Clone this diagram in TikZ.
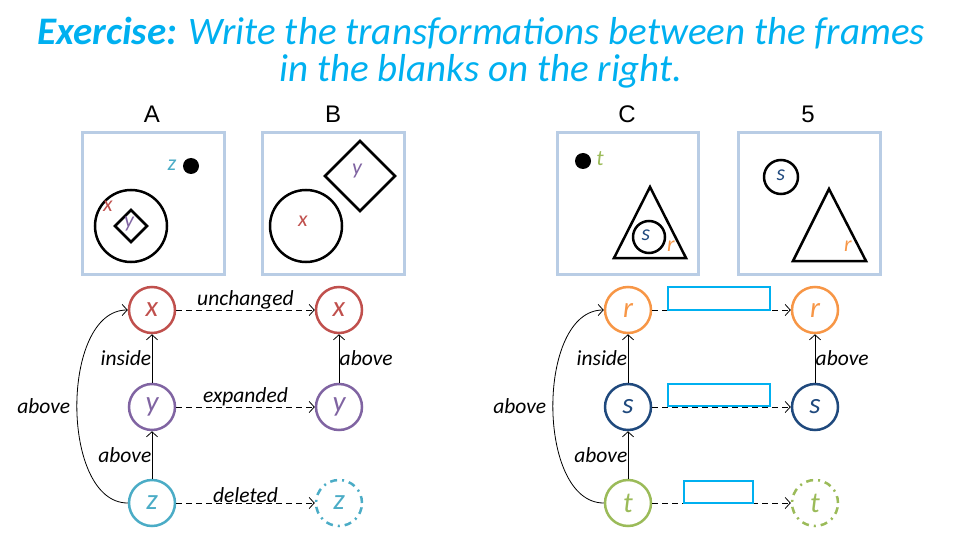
\documentclass[tikz,border=0pt]{standalone}
\usepackage{fontspec}
\setmainfont{Carlito}
\newfontfamily\capfont{Liberation Sans}
\usetikzlibrary{arrows.meta}
\definecolor{titleblue}{RGB}{0,176,240}
\definecolor{framegray}{RGB}{185,205,229}
\definecolor{cx}{RGB}{192,80,77}
\definecolor{cy}{RGB}{128,100,162}
\definecolor{cz}{RGB}{75,172,198}
\definecolor{cr}{RGB}{247,150,70}
\definecolor{cs}{RGB}{31,73,125}
\definecolor{ct}{RGB}{155,187,89}
\begin{document}
\begin{tikzpicture}[x=1pt,y=-1pt,
  framebox/.style={draw=framegray,line width=3pt},
  outline/.style={draw=black,line width=2.5pt},
  blackdot/.style={fill=black},
  letter/.style={font=\itshape\fontsize{22}{24}\selectfont},
  vtx/.style={circle,draw=#1,text=#1,line width=2.5pt,minimum size=46pt,inner sep=0pt,
    font=\itshape\fontsize{29}{30}\selectfont},
  gone/.style={vtx=#1,dash pattern=on 7pt off 5pt on 2pt off 5pt},
  rel/.style={-{Straight Barb[length=5pt,width=11pt]},line width=0.8pt},
  trans/.style={rel,dash pattern=on 6pt off 4pt},
  lbl/.style={font=\itshape\fontsize{21.5}{23}\selectfont},
  blankbox/.style={draw=titleblue,line width=2pt,fill=white,inner sep=0pt},
  captext/.style={font=\capfont\fontsize{24}{26}\selectfont}]
\useasboundingbox (0,0) rectangle (960,540);

% title, two centred lines
\node[text=titleblue,align=center,inner sep=0pt,
  font=\itshape\fontsize{39}{37}\selectfont] (title) at (481,53)
  {\textbf{Exercise:} Write the transformations between the frames\\
   in the blanks on the right.};

% frame captions
\node[captext] (capA) at (152,114) {A};
\node[captext] (capB) at (333,114) {B};
\node[captext] (capC) at (627,114) {C};
\node[captext] (cap5) at (808,114) {5};

% frame A
\draw[framebox] (82,133) rectangle (224,274);
\draw[outline] (131,226) circle[radius=36];
\draw[outline] (131,210) -- (147,226) -- (131,242) -- (115,226) -- cycle;
\fill[blackdot] (191,166) circle[radius=8];
\node[letter,text=cx] (Ax) at (108,206) {x};
\node[letter,text=cy] (Ay) at (129,224) {y};
\node[letter,text=cz] (Az) at (172,165) {z};

% frame B
\draw[framebox] (262,133) rectangle (404,274);
\draw[outline] (306,226) circle[radius=36];
\draw[outline] (360,141) -- (395,176) -- (360,211) -- (325,176) -- cycle;
\node[letter,text=cx] (Bx) at (303,221) {x};
\node[letter,text=cy] (By) at (357,171) {y};

% frame C
\draw[framebox] (557,133) rectangle (698,274);
\fill[blackdot] (583,161) circle[radius=8];
\draw[outline,line join=miter] (650,187) -- (686,258) -- (614,258) -- cycle;
\draw[outline] (649,237) circle[radius=16];
\node[letter,text=ct] (Ct) at (600,159) {t};
\node[letter,text=cs] (Cs) at (646,235) {s};
\node[letter,text=cr] (Cr) at (671,246) {r};

% frame 5
\draw[framebox] (738,133) rectangle (880,274);
\draw[outline] (781,177) circle[radius=17];
\draw[outline] (829,189) -- (866,261) -- (793,261) -- cycle;
\node[letter,text=cs] (Fs) at (781,175) {s};
\node[letter,text=cr] (Fr) at (848,246) {r};

% left relation graph
\node[vtx=cx] (x1) at (152,310) {x};
\node[vtx=cy] (y1) at (152,407) {y};
\node[vtx=cz] (z1) at (152,503) {z};
\node[vtx=cx] (x2) at (339,310) {x};
\node[vtx=cy] (y2) at (339,407) {y};
\node[gone=cz] (z2) at (339,503) {z};

\draw[rel] (y1) -- node[lbl,left,xshift=3pt] {inside} (x1);
\draw[rel] (z1) -- node[lbl,left,xshift=3pt] {above} (y1);
\draw[rel] (y2) -- node[lbl,right,xshift=-3pt] {above} (x2);
\draw[rel] (z1.west) to[out=180,in=180,looseness=0.9]
  node[lbl,left,xshift=-3pt] {above} (x1.west);
\draw[trans] (x1) -- node[lbl,above=-3pt] {unchanged} (x2);
\draw[trans] (y1) -- node[lbl,above=-3pt] {expanded} (y2);
\draw[trans] (z1) -- node[lbl,above=-3pt] {deleted} (z2);

% right relation graph
\node[vtx=cr] (r1) at (628,310) {r};
\node[vtx=cs] (s1) at (628,407) {s};
\node[vtx=ct] (t1) at (628,503) {t};
\node[vtx=cr] (r2) at (815,310) {r};
\node[vtx=cs] (s2) at (815,407) {s};
\node[gone=ct] (t2) at (815,503) {t};

\draw[rel] (s1) -- node[lbl,left,xshift=3pt] {inside} (r1);
\draw[rel] (t1) -- node[lbl,left,xshift=3pt] {above} (s1);
\draw[rel] (s2) -- node[lbl,right,xshift=-3pt] {above} (r2);
\draw[rel] (t1.west) to[out=180,in=180,looseness=0.9]
  node[lbl,left,xshift=-3pt] {above} (r1.west);
\draw[trans] (r1) -- (r2);
\draw[trans] (s1) -- (s2);
\draw[trans] (t1) -- (t2);

% blanks to fill in
\node[blankbox,minimum width=102pt,minimum height=23pt] (br) at (719,298.5) {};
\node[blankbox,minimum width=102pt,minimum height=22pt] (bs) at (719,395) {};
\node[blankbox,minimum width=69pt,minimum height=22pt] (bt) at (718.5,492) {};
\end{tikzpicture}
\end{document}
